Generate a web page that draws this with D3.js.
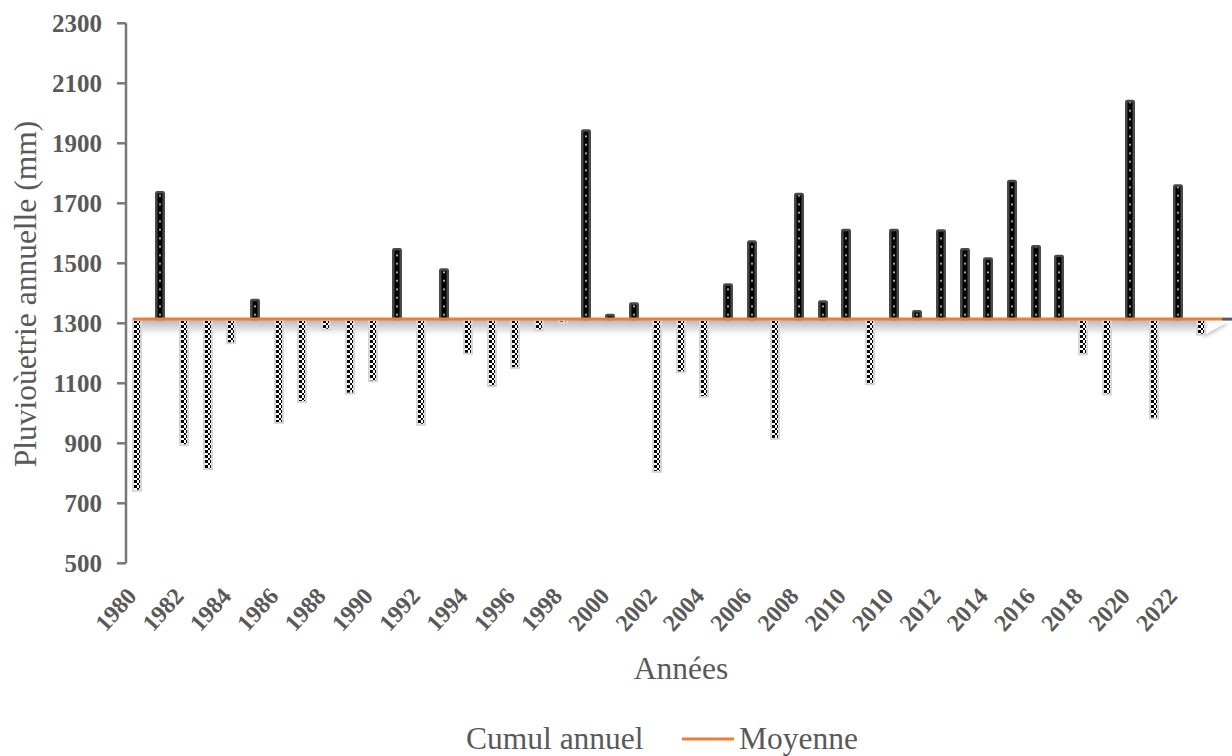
<!DOCTYPE html>
<html>
<head>
<meta charset="utf-8">
<script src="https://cdn.jsdelivr.net/npm/d3@7"></script>
<style>
  body { margin: 0; background: #fff; }
  svg { display: block; }
  text { font-family: "Liberation Serif", "Times New Roman", serif; fill: #595959; }
</style>
</head>
<body>
<svg id="chart" width="1232" height="756"></svg>
<script>
// Annual rainfall totals (mm) and the long-term mean
const years = [1980, 1981, 1982, 1983, 1984, 1985, 1986, 1987, 1988, 1989,
               1990, 1991, 1992, 1993, 1994, 1995, 1996, 1997, 1998, 1999,
               2000, 2001, 2002, 2003, 2004, 2005, 2006, 2007, 2008, 2009,
               2010, 2011, 2010, 2011, 2012, 2013, 2014, 2015, 2016, 2017,
               2018, 2019, 2020, 2021, 2022, 2023];
const cumulAnnuel = [745, 1737, 897, 817, 1237, 1378, 971, 1041, 1282, 1069,
                     1110, 1547, 965, 1479, 1202, 1093, 1154, 1280, 1306, 1943,
                     1328, 1366, 808, 1140, 1058, 1429, 1573, 918, 1731, 1373,
                     1611, 1100, 1611, 1340, 1609, 1547, 1516, 1774, 1557, 1524,
                     1200, 1066, 2041, 986, 1759, 1265];
const moyenne = 1314;
const yTicks = [500, 700, 900, 1100, 1300, 1500, 1700, 1900, 2100, 2300];
const legendLabels = ["Cumul annuel", "Moyenne"];

const svg = d3.select("#chart");
const idx = d3.range(years.length);

const x = d3.scaleBand().domain(idx).range([125, 1213]).padding(0);
const y = d3.scaleLinear().domain([500, 2300]).range([563.3, 23.3]);

const step = x.step();
const barW = 10;
const yMean = y(moyenne);
const yBase = Math.round(yMean);

const defs = svg.append("defs");

// dotted fill for years above the mean
const dots = defs.append("pattern")
  .attr("id", "dots").attr("patternUnits", "userSpaceOnUse")
  .attr("width", barW).attr("height", 8.5);
dots.append("rect").attr("width", barW).attr("height", 8.5).attr("fill", "#000");
dots.append("rect").attr("x", barW / 2 - 0.8).attr("y", 3.5).attr("width", 1.6).attr("height", 1.6).attr("fill", "#fff");

// checkerboard fill for years below the mean
const sq = 2.5;
const checker = defs.append("pattern")
  .attr("id", "checker").attr("patternUnits", "userSpaceOnUse")
  .attr("x", 2).attr("y", 1).attr("width", sq * 2).attr("height", sq * 2);
checker.append("rect").attr("width", sq * 2).attr("height", sq * 2).attr("fill", "#fff");
checker.append("rect").attr("width", sq).attr("height", sq).attr("fill", "#000").attr("shape-rendering", "crispEdges");
checker.append("rect").attr("x", sq).attr("y", sq).attr("width", sq).attr("height", sq).attr("fill", "#000").attr("shape-rendering", "crispEdges");

// soft shadow under the mean line
const grad = defs.append("linearGradient").attr("id", "meanShadow")
  .attr("x1", 0).attr("y1", 0).attr("x2", 0).attr("y2", 1);
grad.append("stop").attr("offset", 0).attr("stop-color", "#000").attr("stop-opacity", 0.28);
grad.append("stop").attr("offset", 1).attr("stop-color", "#000").attr("stop-opacity", 0);

const curl = defs.append("filter").attr("id", "curlShadow")
  .attr("x", "-50%").attr("y", "-50%").attr("width", "200%").attr("height", "200%");
curl.append("feDropShadow").attr("dx", -2).attr("dy", 3).attr("stdDeviation", 2)
  .attr("flood-color", "#000").attr("flood-opacity", 0.3);

const lineStart = x(0) + step / 2 - 4;
const lineEnd = 1232;

svg.append("rect")
  .attr("x", lineStart).attr("y", yMean + 1)
  .attr("width", 1200 - lineStart).attr("height", 15)
  .attr("fill", "url(#meanShadow)");

// folded corner at the right end of the mean line
svg.append("path")
  .attr("d", `M1210,${yMean + 2} L1231,${yMean + 1} L1204,${yMean + 16} Z`)
  .attr("fill", "#fff").attr("filter", "url(#curlShadow)");

// Y axis
const yAxisX = 126;
svg.append("line")
  .attr("x1", yAxisX).attr("x2", yAxisX)
  .attr("y1", y(2300)).attr("y2", y(500))
  .attr("stroke", "#777").attr("stroke-width", 2.5);
svg.selectAll(".ytick").data(yTicks).join("line")
  .attr("class", "ytick")
  .attr("x1", yAxisX - 9).attr("x2", yAxisX)
  .attr("y1", d => y(d)).attr("y2", d => y(d))
  .attr("stroke", "#777").attr("stroke-width", 2.5);
svg.selectAll(".ylab").data(yTicks).join("text")
  .attr("class", "ylab")
  .attr("x", 102).attr("y", d => y(d)).attr("dy", "0.35em")
  .attr("text-anchor", "end")
  .attr("font-size", 25).attr("font-weight", "bold")
  .text(d => d);

// Bars: drawn from the mean to each annual total
const bars = svg.selectAll(".bar").data(idx).join("g")
  .attr("class", "bar")
  .attr("transform", i => `translate(${Math.round(x(i) + (step - barW) / 2)},${yBase})`);

bars.filter(i => cumulAnnuel[i] >= moyenne).append("rect")
  .attr("x", 1.25).attr("width", barW - 2.5)
  .attr("y", i => y(cumulAnnuel[i]) - yBase)
  .attr("height", i => yBase - y(cumulAnnuel[i]))
  .attr("rx", 1)
  .attr("fill", "url(#dots)")
  .attr("stroke", "#4a4a4a").attr("stroke-width", 2.5);

bars.filter(i => cumulAnnuel[i] < moyenne).append("rect")
  .attr("x", 1).attr("width", barW - 2)
  .attr("y", 1)
  .attr("height", i => Math.max(0, y(cumulAnnuel[i]) - yBase))
  .attr("fill", "url(#checker)")
  .attr("stroke", "#d6d6d6").attr("stroke-width", 2);

// Mean line
svg.append("line")
  .attr("x1", lineStart).attr("x2", 1222)
  .attr("y1", yMean).attr("y2", yMean)
  .attr("stroke", "#ED7D31").attr("stroke-width", 3);
svg.append("line")
  .attr("x1", 1222).attr("x2", lineEnd)
  .attr("y1", yMean).attr("y2", yMean)
  .attr("stroke", "#595959").attr("stroke-width", 3);

// X axis labels (every second category), slanted
const xLabels = svg.append("g");
idx.filter(i => i % 2 === 0).forEach(i => {
  const ax = x(i) + step / 2 + 1;
  const ay = 597;
  xLabels.append("text")
    .attr("x", ax).attr("y", ay)
    .attr("transform", `rotate(-48 ${ax} ${ay})`)
    .attr("text-anchor", "end")
    .attr("font-size", 24).attr("font-weight", "bold")
    .text(years[i]);
});

// Axis titles
svg.append("text")
  .attr("transform", "translate(36,294) rotate(-90)")
  .attr("text-anchor", "middle")
  .attr("font-size", 31.5)
  .text("Pluvioùetrie annuelle (mm)");

svg.append("text")
  .attr("x", 681).attr("y", 679)
  .attr("text-anchor", "middle")
  .attr("font-size", 31.5)
  .text("Années");

// Legend
svg.append("text")
  .attr("x", 466).attr("y", 749)
  .attr("font-size", 31.5)
  .text(legendLabels[0]);
svg.append("line")
  .attr("x1", 682).attr("x2", 734).attr("y1", 739).attr("y2", 739)
  .attr("stroke", "#ED7D31").attr("stroke-width", 3);
svg.append("text")
  .attr("x", 739).attr("y", 749)
  .attr("font-size", 31.5)
  .text(legendLabels[1]);
</script>
</body>
</html>
